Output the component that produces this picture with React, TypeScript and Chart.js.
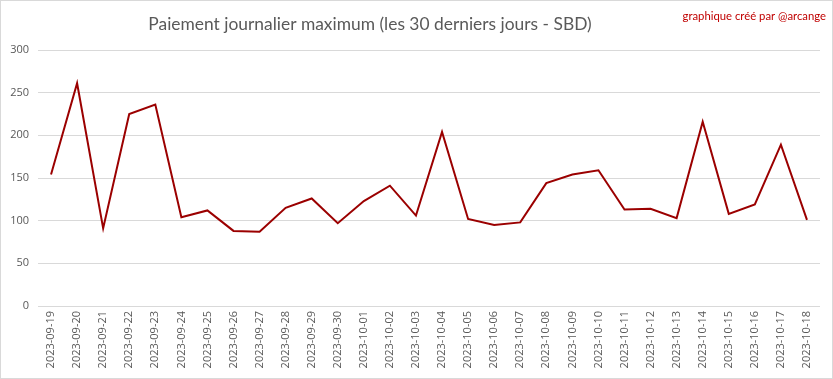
import React, { useEffect, useRef } from "react";
import { Chart, registerables } from "chart.js";

Chart.register(...registerables);

const TITLE = "Paiement journalier maximum (les 30 derniers jours - SBD)";
const CREDIT = "graphique créé par @arcange";

const dates = [
  "2023-09-19", "2023-09-20", "2023-09-21", "2023-09-22", "2023-09-23",
  "2023-09-24", "2023-09-25", "2023-09-26", "2023-09-27", "2023-09-28",
  "2023-09-29", "2023-09-30", "2023-10-01", "2023-10-02", "2023-10-03",
  "2023-10-04", "2023-10-05", "2023-10-06", "2023-10-07", "2023-10-08",
  "2023-10-09", "2023-10-10", "2023-10-11", "2023-10-12", "2023-10-13",
  "2023-10-14", "2023-10-15", "2023-10-16", "2023-10-17", "2023-10-18",
];

const maxPayout = [
  154, 261, 91, 225, 236,
  104, 112, 88, 87, 115,
  126, 97, 123, 141, 106,
  204, 102, 95, 98, 144,
  154, 159, 113, 114, 103,
  216, 108, 119, 189, 101,
];

const yTicks = [0, 50, 100, 150, 200, 250, 300];

const FONT = "'Open Sans', 'Liberation Sans', sans-serif";
const TITLE_FONT = "Lato, 'Open Sans', sans-serif";

export default function App() {
  const ref = useRef<HTMLCanvasElement | null>(null);

  useEffect(() => {
    document.body.style.margin = "0";
    const canvas = ref.current;
    if (!canvas) return;

    const decor = {
      id: "decor",
      beforeDraw(chart: any) {
        const ctx = chart.ctx;
        ctx.save();
        ctx.fillStyle = "#ffffff";
        ctx.fillRect(0, 0, chart.width, chart.height);
        ctx.restore();
      },
      afterDraw(chart: any) {
        const ctx = chart.ctx;
        ctx.save();
        ctx.strokeStyle = "#d9d9d9";
        ctx.lineWidth = 1;
        ctx.strokeRect(0.5, 0.5, chart.width - 1, chart.height - 1);
        ctx.fillStyle = "#595959";
        ctx.font = `17.4px ${TITLE_FONT}`;
        ctx.textAlign = "center";
        ctx.textBaseline = "middle";
        ctx.fillText(TITLE, 370, 24);
        ctx.fillStyle = "#c00000";
        ctx.font = `11.3px ${TITLE_FONT}`;
        ctx.textAlign = "right";
        ctx.fillText(CREDIT, 826, 16);
        ctx.restore();
      },
    };

    const chart = new Chart(canvas, {
      type: "line",
      data: {
        labels: dates,
        datasets: [
          {
            data: maxPayout,
            borderColor: "#9b0000",
            backgroundColor: "#9b0000",
            borderWidth: 2,
            pointRadius: 0,
            tension: 0,
            fill: false,
          },
        ],
      },
      options: {
        animation: false,
        responsive: false,
        maintainAspectRatio: false,
        layout: { padding: { top: 50, right: 13, bottom: 0, left: 0 } },
        plugins: {
          legend: { display: false },
          title: { display: false },
          tooltip: { enabled: false },
        },
        scales: {
          x: {
            offset: true,
            grid: { display: false, drawTicks: false },
            border: { display: false },
            ticks: {
              minRotation: 90,
              maxRotation: 90,
              autoSkip: false,
              padding: 5,
              color: "#595959",
              font: { family: FONT, size: 11 },
            },
            afterFit(scale: any) {
              scale.height = 73;
            },
          },
          y: {
            min: 0,
            max: 300,
            afterBuildTicks(scale: any) {
              scale.ticks = yTicks.map((v) => ({ value: v }));
            },
            grid: { color: "#d9d9d9", drawTicks: false, lineWidth: 1 },
            border: { display: false },
            ticks: {
              padding: 9,
              color: "#595959",
              font: { family: FONT, size: 11 },
            },
            afterFit(scale: any) {
              scale.width = 38;
            },
          },
        },
      },
      plugins: [decor],
    });

    return () => chart.destroy();
  }, []);

  return (
    <div style={{ position: "absolute", left: 0, top: 0, width: 833, height: 379 }}>
      <canvas ref={ref} width={833} height={379} style={{ display: "block", width: 833, height: 379 }} />
    </div>
  );
}
